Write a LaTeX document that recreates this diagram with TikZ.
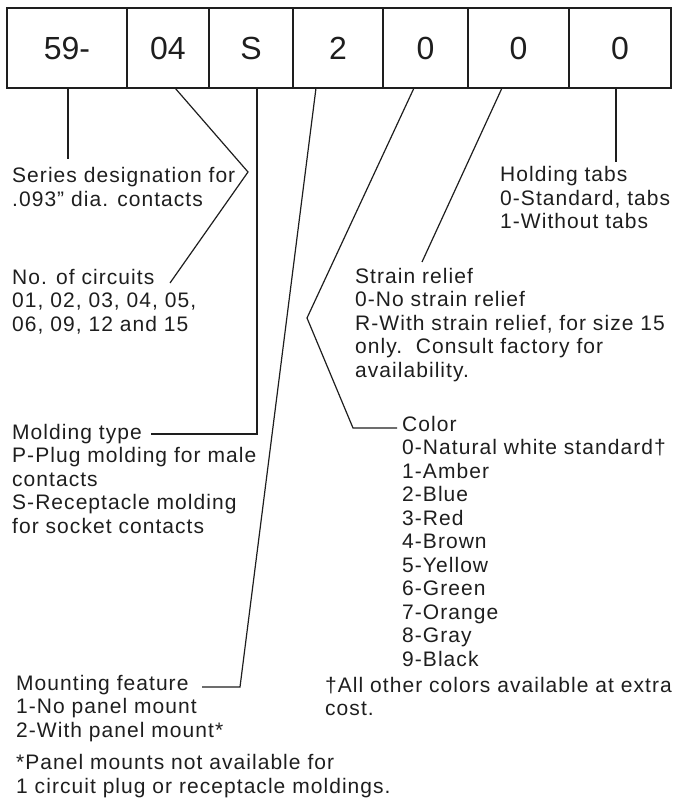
\documentclass[tikz,border=0pt]{standalone}
\usepackage{fontspec}
\setmainfont{Liberation Sans}[LetterSpace=5]
\newfontfamily\digitfont{Liberation Sans}
\usepackage{xcolor}
\usepackage{tikz}
\usetikzlibrary{calc,positioning}

\definecolor{ink}{HTML}{1E1E1E}
\tikzset{
  field/.style={draw=ink, line width=1.4pt, minimum height=80pt, inner sep=0pt, outer sep=0pt,
    text=ink, font=\digitfont\fontsize{32}{32}\selectfont},
  note/.style={anchor=base west, align=left, inner sep=0pt, text=ink,
    font=\fontsize{21}{23.5}\selectfont},
  leader/.style={draw=ink, line width=1.2pt},
}

\begin{document}
\begin{tikzpicture}[x=1pt,y=-1pt]
  \useasboundingbox (0,0) rectangle (674,799); %页面大小与原图一致
  \node[field, minimum width=120pt, anchor=north west] (series) at (7,8) {59-};
  \node[field, minimum width=82pt, right=0pt of series] (circuits) {04};
  \node[field, minimum width=84pt, right=0pt of circuits] (molding) {S};
  \node[field, minimum width=90pt, right=0pt of molding] (mounting) {2};
  \node[field, minimum width=85pt, right=0pt of mounting] (color) {0};
  \node[field, minimum width=101pt, right=0pt of color] (relief) {0};
  \node[field, minimum width=102pt, right=0pt of relief] (tabs) {0};

  % 多行文字的 base 是最后一行的基线
  \node[note] (seriesnote) at (12,206.5) {Series designation for\\.093'' dia. contacts};
  \node[note] (circuitsnote) at (12,331) {No. of circuits\\01, 02, 03, 04, 05,\\06, 09, 12 and 15};
  \node[note] (moldingnote) at (12,533) {Molding type\\P-Plug molding for male\\contacts\\S-Receptacle molding\\for socket contacts};
  \node[note] (mountingnote) at (16,737) {Mounting feature\\1-No panel mount\\2-With panel mount*};
  \node[note] (panelnote) at (16,793) {*Panel mounts not available for\\1 circuit plug or receptacle moldings.};
  \node[note] (tabsnote) at (500,229) {Holding tabs\\0-Standard, tabs\\1-Without tabs};
  \node[note] (reliefnote) at (355,377) {Strain relief\\0-No strain relief\\R-With strain relief, for size 15\\only.\ \ Consult factory for\\availability.};
  \node[note] (colornote) at (402,666) {Color\\0-Natural white standard\textdagger\\1-Amber\\2-Blue\\3-Red\\4-Brown\\5-Yellow\\6-Green\\7-Orange\\8-Gray\\9-Black};
  \node[note] (extranote) at (325,715.5) {\textdagger All other colors available at extra\\cost.};

  \coordinate (seriesend) at (68,159);
  \draw[leader] ([xshift=1pt]series.south) -- (seriesend);
  \coordinate (circuitsbend) at (248,172);
  \coordinate (circuitsend) at (170,283);
  \draw[leader] ([xshift=7pt]circuits.south) -- (circuitsbend) -- (circuitsend); %折线指向两段文字
  \coordinate (moldingend) at (151,434);
  \draw[leader] ([xshift=6pt]molding.south) |- (moldingend);
  \coordinate (mountingbend) at (240,687);
  \coordinate (mountingend) at (202,687);
  \draw[leader] ([xshift=-22pt]mounting.south) -- (mountingbend) -- (mountingend);
  \coordinate (colorbend) at (307,318);
  \coordinate (colorcorner) at (353,428);
  \coordinate (colorend) at (397,428);
  \draw[leader] ([xshift=-11.5pt]color.south) -- (colorbend) -- (colorcorner) -- (colorend);
  \coordinate (reliefend) at (422,262);
  \draw[leader] ([xshift=-16.5pt]relief.south) -- (reliefend);
  \coordinate (tabsend) at (616,162);
  \draw[leader] ([xshift=-4pt]tabs.south) -- (tabsend);
\end{tikzpicture}
\end{document}
